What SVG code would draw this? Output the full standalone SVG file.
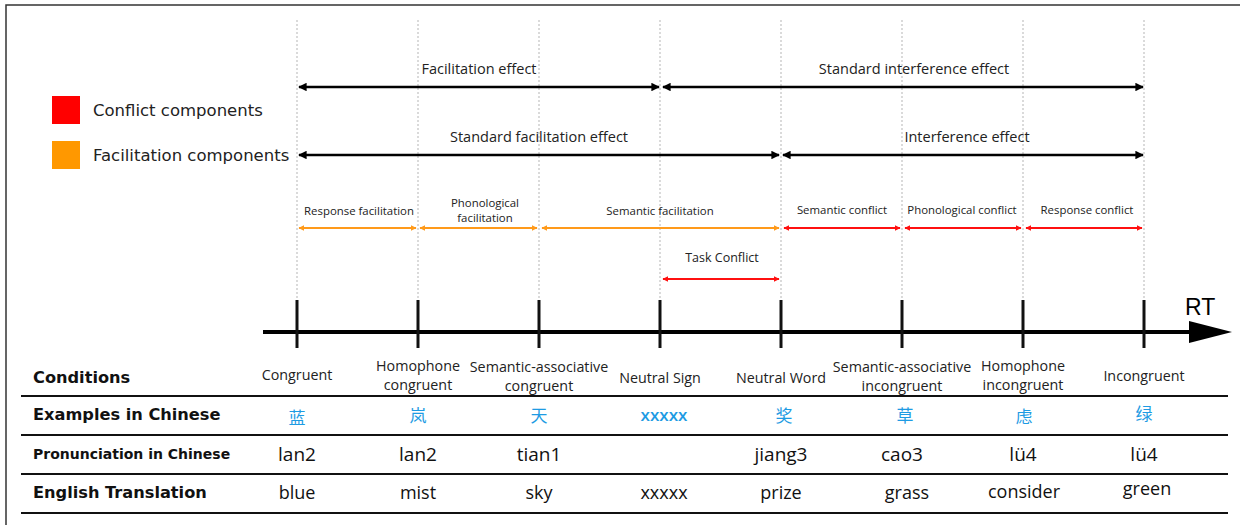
<svg xmlns="http://www.w3.org/2000/svg" width="1240" height="525" viewBox="0 0 1240 525">
<style>
.dot{stroke:#b5b5b5;stroke-width:1;stroke-dasharray:2,2;fill:none}
.blk{stroke:#000;stroke-width:2.5;fill:none}
.org{stroke:#ff9a1a;stroke-width:2;fill:none}
.red{stroke:#ff1010;stroke-width:2;fill:none}
.tick{stroke:#111;stroke-width:3}
.lbl{font-family:"Open Sans","Liberation Sans",sans-serif;fill:#222;text-anchor:middle}
.eff{font-size:14.5px}
.comp{font-size:11.4px}
.cond{font-size:14.3px}
.leg{font-family:"DejaVu Sans",sans-serif;font-size:16.5px;fill:#222}
.hdr{font-family:"DejaVu Sans",sans-serif;font-weight:bold;fill:#111}
.zh{font-family:"Noto Sans CJK SC","Open Sans",sans-serif;font-size:17px;fill:#1e9be3;text-anchor:middle}
.val{font-family:"Open Sans","Liberation Sans",sans-serif;fill:#111;text-anchor:middle}
.en{font-weight:500}
.tl{stroke:#111;stroke-width:2}
</style>
<defs>
<marker id="ab" viewBox="0 0 10 10" refX="9" refY="5" markerWidth="3.4" markerHeight="3.4" orient="auto-start-reverse"><path d="M0,0L10,5L0,10z" fill="#000"/></marker>
<marker id="ao" viewBox="0 0 10 10" refX="9" refY="5" markerWidth="3" markerHeight="3" orient="auto-start-reverse"><path d="M0,0L10,5L0,10z" fill="#ff9a1a"/></marker>
<marker id="ar" viewBox="0 0 10 10" refX="9" refY="5" markerWidth="3" markerHeight="3" orient="auto-start-reverse"><path d="M0,0L10,5L0,10z" fill="#ff1010"/></marker>
</defs>
<rect x="6" y="5" width="1250" height="530" fill="#fff" stroke="#333" stroke-width="1.5"/>

<g id="gridlines">
<line class="dot" x1="297" y1="20" x2="297" y2="300"/>
<line class="dot" x1="418" y1="20" x2="418" y2="300"/>
<line class="dot" x1="539" y1="20" x2="539" y2="300"/>
<line class="dot" x1="660" y1="20" x2="660" y2="300"/>
<line class="dot" x1="781" y1="20" x2="781" y2="300"/>
<line class="dot" x1="902" y1="20" x2="902" y2="300"/>
<line class="dot" x1="1023" y1="20" x2="1023" y2="300"/>
<line class="dot" x1="1144" y1="20" x2="1144" y2="300"/>
</g>

<g id="legend">
<rect x="52" y="96" width="28" height="28" fill="#ff0000"/>
<text class="leg" x="93" y="116">Conflict components</text>
<rect x="52" y="141" width="28" height="28" fill="#ff9800"/>
<text class="leg" x="93" y="161">Facilitation components</text>
</g>

<g id="connectors">
<line class="blk" x1="299" y1="87" x2="659" y2="87" marker-start="url(#ab)" marker-end="url(#ab)"/>
<line class="blk" x1="663" y1="87" x2="1143" y2="87" marker-start="url(#ab)" marker-end="url(#ab)"/>
<line class="blk" x1="299" y1="155" x2="779" y2="155" marker-start="url(#ab)" marker-end="url(#ab)"/>
<line class="blk" x1="783" y1="155" x2="1143" y2="155" marker-start="url(#ab)" marker-end="url(#ab)"/>
<line class="org" x1="299" y1="228" x2="416" y2="228" marker-start="url(#ao)" marker-end="url(#ao)"/>
<line class="org" x1="420" y1="228" x2="537" y2="228" marker-start="url(#ao)" marker-end="url(#ao)"/>
<line class="org" x1="542" y1="228" x2="779" y2="228" marker-start="url(#ao)" marker-end="url(#ao)"/>
<line class="red" x1="784" y1="228" x2="900" y2="228" marker-start="url(#ar)" marker-end="url(#ar)"/>
<line class="red" x1="905" y1="228" x2="1021" y2="228" marker-start="url(#ar)" marker-end="url(#ar)"/>
<line class="red" x1="1026" y1="228" x2="1142" y2="228" marker-start="url(#ar)" marker-end="url(#ar)"/>
<line class="red" x1="663" y1="279" x2="779" y2="279" marker-start="url(#ar)" marker-end="url(#ar)"/>
</g>

<g id="effect-labels">
<text class="lbl eff" x="479" y="74">Facilitation effect</text>
<text class="lbl eff" x="914" y="74">Standard interference effect</text>
<text class="lbl eff" x="539" y="142">Standard facilitation effect</text>
<text class="lbl eff" x="967" y="142">Interference effect</text>
<text class="lbl comp" x="359" y="215">Response facilitation</text>
<text class="lbl comp" x="485" y="207">Phonological</text>
<text class="lbl comp" x="485" y="222">facilitation</text>
<text class="lbl comp" x="660" y="215">Semantic facilitation</text>
<text class="lbl comp" x="842" y="214">Semantic conflict</text>
<text class="lbl comp" x="962" y="214">Phonological conflict</text>
<text class="lbl comp" x="1087" y="214">Response conflict</text>
<text class="lbl comp" x="722" y="262" style="font-size:12.5px">Task Conflict</text>
</g>

<g id="axis">
<line x1="263" y1="332" x2="1192" y2="332" stroke="#000" stroke-width="4"/>
<path d="M1189,321L1232,332L1189,343z" fill="#000"/>
<line class="tick" x1="297" y1="300" x2="297" y2="348"/>
<line class="tick" x1="418" y1="300" x2="418" y2="348"/>
<line class="tick" x1="539" y1="300" x2="539" y2="348"/>
<line class="tick" x1="660" y1="300" x2="660" y2="348"/>
<line class="tick" x1="781" y1="300" x2="781" y2="348"/>
<line class="tick" x1="902" y1="300" x2="902" y2="348"/>
<line class="tick" x1="1023" y1="300" x2="1023" y2="348"/>
<line class="tick" x1="1144" y1="300" x2="1144" y2="348"/>
<text x="1185" y="315" font-family="'Liberation Sans',sans-serif" font-size="23" fill="#000">RT</text>
</g>

<g id="table">
<line class="tl" x1="21" y1="396" x2="1228" y2="396"/>
<line class="tl" x1="21" y1="435" x2="1228" y2="435"/>
<line class="tl" x1="21" y1="474" x2="1228" y2="474"/>
<line class="tl" x1="21" y1="513" x2="1228" y2="513"/>
<text class="hdr" x="33" y="383" font-size="16.2">Conditions</text>
<text class="hdr" x="33" y="420" font-size="16.2">Examples in Chinese</text>
<text class="hdr" x="33" y="459" font-size="14">Pronunciation in Chinese</text>
<text class="hdr" x="33" y="498" font-size="16.2">English Translation</text>

<text class="lbl cond" x="297" y="380">Congruent</text>
<text class="lbl cond" x="418" y="371">Homophone</text>
<text class="lbl cond" x="418" y="390">congruent</text>
<text class="lbl cond" x="539" y="372">Semantic-associative</text>
<text class="lbl cond" x="539" y="391">congruent</text>
<text class="lbl cond" x="660" y="383">Neutral Sign</text>
<text class="lbl cond" x="781" y="383">Neutral Word</text>
<text class="lbl cond" x="902" y="372">Semantic-associative</text>
<text class="lbl cond" x="902" y="391">incongruent</text>
<text class="lbl cond" x="1023" y="371">Homophone</text>
<text class="lbl cond" x="1023" y="390">incongruent</text>
<text class="lbl cond" x="1144" y="381">Incongruent</text>

<text class="zh" x="297" y="424">蓝</text>
<text class="zh" x="418" y="422">岚</text>
<text class="zh" x="539" y="422">天</text>
<text class="zh" x="664" y="421" style="font-family:'Open Sans',sans-serif;font-size:17px;font-weight:600">xxxxx</text>
<text class="zh" x="784" y="422">奖</text>
<text class="zh" x="905" y="422">草</text>
<text class="zh" x="1024" y="423">虑</text>
<text class="zh" x="1144" y="420">绿</text>

<text class="val" x="297" y="461" font-size="19">lan2</text>
<text class="val" x="418" y="461" font-size="19">lan2</text>
<text class="val" x="539" y="461" font-size="19">tian1</text>
<text class="val" x="781" y="461" font-size="19">jiang3</text>
<text class="val" x="902" y="461" font-size="19">cao3</text>
<text class="val" x="1023" y="461" font-size="19">lü4</text>
<text class="val" x="1144" y="461" font-size="19">lü4</text>

<text class="val en" x="297" y="499" font-size="18">blue</text>
<text class="val en" x="418" y="499" font-size="18">mist</text>
<text class="val en" x="539" y="499" font-size="18">sky</text>
<text class="val en" x="664" y="499" font-size="18">xxxxx</text>
<text class="val en" x="781" y="499" font-size="18">prize</text>
<text class="val en" x="907" y="499" font-size="18">grass</text>
<text class="val en" x="1024" y="498" font-size="18">consider</text>
<text class="val en" x="1147" y="495" font-size="18">green</text>
</g>
</svg>
